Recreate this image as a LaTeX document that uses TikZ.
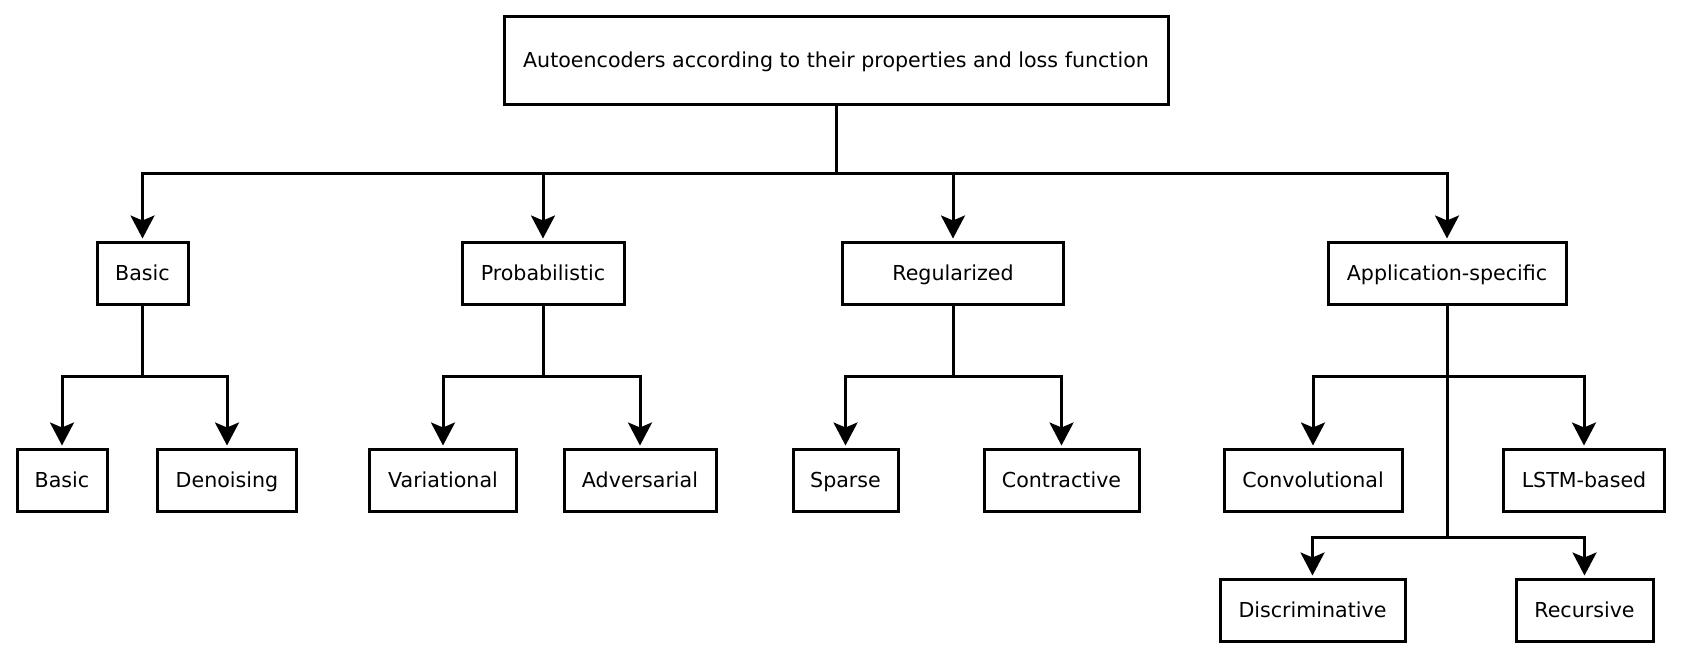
\documentclass[tikz,border=0pt]{standalone}
\usepackage{fontspec}
\setmainfont{DejaVu Sans}
\usetikzlibrary{arrows.meta}
\begin{document}
\begin{tikzpicture}[x=1pt,y=-1pt,
  box/.style={draw=black,line width=3pt,inner sep=0pt,font=\fontsize{20.6}{24}\selectfont,minimum height=62pt,text height=15pt,text depth=0pt},
  conn/.style={line width=3pt,line join=miter},
  arr/.style={conn,-{Stealth[length=23pt,width=24pt,inset=5pt]},shorten >=2pt}]
\useasboundingbox (0,0) rectangle (1687,656);
% nodes
\node[box,minimum width=664pt,minimum height=88pt] (root) at (836,60) {Autoencoders according to their properties and loss function};
\node[box,minimum width=91pt]  (basic1) at (142.5,273) {Basic};
\node[box,minimum width=162pt] (prob)   at (543,273) {Probabilistic};
\node[box,minimum width=221pt] (reg)    at (953,273) {Regularized};
\node[box,minimum width=238pt] (app)    at (1447,273) {Application-specific};
\node[box,minimum width=90pt]  (basic2) at (62,480) {Basic};
\node[box,minimum width=139pt] (den)    at (227,480) {Denoising};
\node[box,minimum width=147pt] (var)    at (443,480) {Variational};
\node[box,minimum width=152pt] (adv)    at (640,480) {Adversarial};
\node[box,minimum width=105pt] (spa)    at (845.5,480) {Sparse};
\node[box,minimum width=155pt] (con)    at (1061.5,480) {Contractive};
\node[box,minimum width=178pt] (conv)   at (1313,480) {Convolutional};
\node[box,minimum width=161pt] (lstm)   at (1584,480) {LSTM-based};
\node[box,minimum width=185pt] (disc)   at (1312.5,610) {Discriminative};
\node[box,minimum width=137pt] (rec)    at (1584.5,610) {Recursive};
% junctions
\coordinate (j0) at (836,173);
\coordinate (j1) at (142.5,376);
\coordinate (j2) at (543,376);
\coordinate (j3) at (953,376);
\coordinate (j4) at (1447,376);
\coordinate (j5) at (1447,537);
% connectors
\draw[conn] (root.south) -- (j0);
\draw[arr] (j0) -| (basic1.north);
\draw[arr] (j0) -| (prob.north);
\draw[arr] (j0) -| (reg.north);
\draw[arr] (j0) -| (app.north);
\draw[conn] (basic1.south) -- (j1);
\draw[arr] (j1) -| (basic2.north);
\draw[arr] (j1) -| (den.north);
\draw[conn] (prob.south) -- (j2);
\draw[arr] (j2) -| (var.north);
\draw[arr] (j2) -| (adv.north);
\draw[conn] (reg.south) -- (j3);
\draw[arr] (j3) -| (spa.north);
\draw[arr] (j3) -| (con.north);
\draw[conn] (app.south) -- (j5);
\draw[arr] (j4) -| (conv.north);
\draw[arr] (j4) -| (lstm.north);
\draw[arr] (j5) -| (disc.north);
\draw[arr] (j5) -| (rec.north);
\end{tikzpicture}
\end{document}
